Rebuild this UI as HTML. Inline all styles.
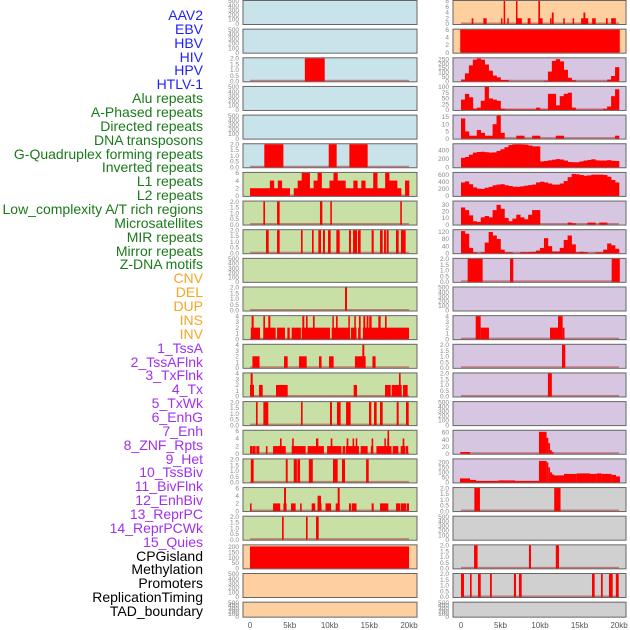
<!DOCTYPE html>
<html><head><meta charset="utf-8">
<style>
html,body{margin:0;padding:0;background:#fff;}
body{width:630px;height:630px;overflow:hidden;position:relative;font-family:"Liberation Sans",sans-serif;}
#labels div{position:absolute;right:427px;font-size:14px;line-height:14px;white-space:nowrap;}
svg{position:absolute;left:0;top:0;}
</style></head>
<body>
<div id="labels"></div>
<svg id="chart" width="630" height="630"></svg>
<script>
// ---- data ----
const trackNames = ["AAV2","EBV","HBV","HIV","HPV","HTLV-1","Alu repeats","A-Phased repeats","Directed repeats","DNA transposons","G-Quadruplex forming repeats","Inverted repeats","L1 repeats","L2 repeats","Low_complexity A/T rich regions","Microsatellites","MIR repeats","Mirror repeats","Z-DNA motifs","CNV","DEL","DUP","INS","INV","1_TssA","2_TssAFlnk","3_TxFlnk","4_Tx","5_TxWk","6_EnhG","7_Enh","8_ZNF_Rpts","9_Het","10_TssBiv","11_BivFlnk","12_EnhBiv","13_ReprPC","14_ReprPCWk","15_Quies","CPGisland","Methylation","Promoters","ReplicationTiming","TAD_boundary"];
const trackGroups = ["v","v","v","v","v","v","r","r","r","r","r","r","r","r","r","r","r","r","r","s","s","s","s","s","c","c","c","c","c","c","c","c","c","c","c","c","c","c","c","o","o","o","o","o"];
const xTickLabels = ["0","5kb","10kb","15kb","20kb"];
const xTickValues = [0,5,10,15,20];

// left column panels
const leftBg = ["b","b","b","b","b","b","g","g","g","g","g","g","g","g","g","g","g","g","g","o","o","o"];
const leftMax = [500,500,2,500,500,2,6,2,2,500,2,4,4,4,2,6,2,6,2,215,500,500];
const leftSeries = [
 null,null,
 {segs:[[6.9,9.4,2]]},
 null,null,
 {segs:[[1.8,4.2,2],[9.9,10.9,2],[12.5,14.8,2]]},
 {bins:[2,2,2,2,2,4,2,4,2,2,0,2,4,6,6,2,4,6,2,2,4,6,4,4,2,2,4,2,4,2,2,6,2,2,6,4,4,2,0,4]},
 {segs:[[1.68,1.89,2],[3.4,3.73,2],[8.8,9.1,2],[10.1,10.3,2],[18.9,19.1,2]]},
 {segs:[[2.01,2.35,2],[3.4,3.73,2],[6.41,6.62,2],[7.8,8.01,2],[8.6,8.93,2],[9.18,9.43,2],[9.81,10.15,2],[10.86,11.28,2],[12.45,12.7,2],[12.96,13.46,2],[13.58,13.92,2],[15.3,15.56,2],[16.35,16.69,2],[16.86,17.1,2],[17.19,17.44,2],[18.36,18.7,2],[18.99,19.58,2]]},
 null,
 {segs:[[11.95,12.2,2]]},
 {segs:[[0.1,1.26,2],[1.68,3.23,2],[3.4,4.4,2],[4.7,5.0,2],[5.24,6.4,2],[6.5,7.76,2],[7.67,10.06,2],[10.27,12.58,2],[12.7,13.4,2],[13.6,13.9,2],[14.2,20,2],[0.2,0.46,4],[1.68,1.89,4],[2.3,2.56,4],[6.58,6.83,4],[7.04,7.25,4],[7.92,8.13,4],[10.36,10.52,4],[10.82,11.03,4],[12.37,12.54,4],[13.12,13.25,4],[13.71,13.92,4],[14.26,14.5,4],[14.67,14.9,4],[15.0,15.3,4],[16.14,16.44,4],[16.98,17.19,4]]},
 {segs:[[0.3,1.2,2],[4.28,4.74,2],[6.16,7.13,2],[8.68,9.0,2],[9.94,10.52,2],[13.2,14.55,2],[15.4,15.8,2],[14.13,14.38,4]]},
 {segs:[[0,0.5,2],[1.13,1.6,2],[3.27,4.74,2],[13.04,13.46,2],[16.98,17.7,2],[17.82,19.08,2],[19.25,19.83,2],[0.08,0.34,4],[18.74,18.95,4]]},
 {segs:[[0.75,0.96,2],[1.68,2.3,2],[6.41,6.62,2],[10.06,10.31,2],[10.94,11.4,2],[12.08,12.66,2],[14.97,15.26,2],[15.6,15.93,2],[16.35,16.69,2],[18.45,18.7,2],[19.62,19.96,2]]},
 {segs:[[0,0.3,2],[0.33,0.71,2],[0.8,1.17,2],[2.0,2.2,2],[2.9,4.5,2],[5.24,7.0,2],[7.25,9.3,2],[9.7,11.5,2],[11.65,11.95,2],[12.03,13.7,2],[13.92,14.8,2],[15.2,15.5,2],[15.9,17.8,2],[17.95,18.66,2],[18.95,19.54,2],[19.6,19.9,2],[3.77,3.98,4],[5.3,5.5,4],[8.3,8.6,4],[10.15,10.36,4],[12.16,12.37,4],[12.9,13.1,4],[13.3,13.5,4],[15.3,15.5,4],[16.9,17.06,4],[17.27,17.5,4],[19.2,19.41,4],[17.3,17.5,6]]},
 {segs:[[0.1,0.46,2],[4.5,4.74,2],[5.5,5.9,2],[5.96,6.3,2],[7.4,7.9,2],[10.44,11.03,2],[11.57,11.95,2],[14.6,14.93,2]]},
 {segs:[[0,0.2,2],[2.9,3.8,2],[4.2,4.6,2],[5.16,5.74,2],[6.3,6.5,2],[7.76,8.2,2],[8.5,9.0,2],[9.5,10.2,2],[10.78,11.28,2],[12.45,12.7,2],[12.8,13.4,2],[15.3,15.56,2],[16.35,17.4,2],[18.36,18.87,2],[18.95,19.62,2],[19.7,20,2],[8.5,8.93,4],[4.28,4.53,6],[11.03,11.28,6]]},
 {segs:[[4.03,4.24,2],[7.04,7.25,2],[8.3,8.64,2]]},
 {segs:[[0,20,205]]},
 null,null
];

// right column panels
const rightBg = ["o","o","p","p","p","p","p","p","p","p","p","p","p","p","p","p","p","x","x","x","x","x"];
const rightMax = [8,6,260,100,16,550,650,35,130,2,500,4,2,2,500,65,230,2,500,2,2,500];
const rightSeries = [
 {segs:[[1.35,1.56,2],[2.83,3.25,2],[5.06,5.2,2],[5.4,5.57,8],[5.86,6.03,2],[6.96,7.13,8],[7.13,7.7,2],[8.44,8.8,2],[9.79,10.0,8],[9.79,10.33,2],[11.27,11.43,2],[11.5,11.73,4],[12.95,13.12,2],[14.13,14.3,2],[15.2,16.1,2],[15.5,15.74,4],[16.6,17.05,2],[18.35,18.57,2],[19.0,19.6,2],[19.2,19.4,2]]},
 {segs:[[-0.1,20.1,6]]},
 {bins:[20,90,180,245,258,245,190,120,65,45,15,15,0,0,0,0,0,0,0,0,0,5,110,230,250,225,130,40,12,0,0,0,0,0,0,0,0,20,60,160]},
 {bins:[45,70,55,5,10,40,100,50,45,40,5,2,2,2,2,2,2,2,2,10,2,2,70,70,20,60,70,75,10,1,1,1,1,1,1,1,5,15,60,90]},
 {bins:[14,5,2,2,6,4,2,2,10,16,4,0,0,0,2,2,0,0,2,2,0,0,0,0,2,2,0,0,0,0,0,0,0,0,0,0,0,0,0,2]},
 {bins:[225,245,300,350,365,370,360,350,355,390,430,480,530,545,548,545,540,520,500,500,140,150,165,180,195,185,160,125,120,120,140,160,175,190,165,160,160,170,155,150]},
 {bins:[380,410,330,240,205,195,230,255,300,320,330,300,280,260,255,270,290,305,320,380,400,380,350,320,320,350,420,530,620,610,590,570,580,600,600,600,590,540,450,380]},
 {bins:[26,22,14,5,4,11,13,11,22,30,24,10,5,9,15,11,8,15,22,22,0,0,0,0,0,0,0,3,2,0,0,0,3,3,0,3,3,0,0,0]},
 {bins:[125,110,30,5,0,5,60,120,100,80,20,5,5,0,0,6,5,7,8,15,30,85,40,10,10,30,75,100,50,5,8,6,0,0,5,5,20,55,45,25]},
 {segs:[[0.84,2.74,2],[6.2,6.62,2],[19.07,20.1,2]]},
 null,
 {segs:[[1.86,2.49,4],[2.49,3.54,2],[11.27,12.28,2],[12.28,12.87,4],[12.87,13.1,2]]},
 {segs:[[12.78,13.2,2]]},
 {segs:[[11.0,11.5,2]]},
 null,
 {segs:[[-0.1,1.14,5],[9.87,10.83,62],[10.83,11.05,45],[11.05,11.27,30],[11.27,11.5,10],[11.5,11.7,5]]},
 {segs:[[-0.13,1.14,40],[1.14,1.9,25],[1.9,4.73,15],[4.73,6.84,20],[6.84,9.87,15],[9.87,10.84,215],[10.84,11.05,200],[11.05,11.27,150],[11.27,11.52,100],[11.52,11.77,80],[11.77,13.04,70],[13.04,14.64,85],[14.64,16.33,90],[16.33,17.17,85],[17.17,17.8,90],[17.8,19.07,85],[19.07,19.62,75],[19.62,20.13,60]]},
 {segs:[[1.69,2.4,2],[11.8,12.6,2]]},
 null,
 {segs:[[1.65,2.1,2],[8.6,8.86,2],[12.0,12.4,2]]},
 {segs:[[0,0.38,2],[1.14,1.35,2],[2.15,2.5,2],[3.67,3.9,2],[6.7,6.96,2],[7.34,7.68,2],[16.58,16.92,2],[17.72,17.94,2],[18.73,19.2,2],[19.6,19.96,2]]},
 null
];

// ---- drawing ----
const NS = "http://www.w3.org/2000/svg";
const svg = document.getElementById("chart");
const bgColors = {b:"#c9e3eb",g:"#c8e0a6",o:"#fed09f",p:"#d6c6e2",x:"#d0d0d0"};
const groupColors = {v:"#1f1fff",r:"#1a7a1a",s:"#f5a623",c:"#a030f0",o:"#000000"};

function mk(tag, attrs, parent){
  const e = document.createElementNS(NS, tag);
  for (const k in attrs) e.setAttribute(k, attrs[k]);
  (parent||svg).appendChild(e);
  return e;
}
function tickSet(max){
  if (max===2) return [0,0.5,1,1.5,2];
  if (max===500) return [0,100,200,300,400,500];
  if (max===4) return [0,1,2,3,4];
  if (max===6) return [0,2,4,6];
  if (max===8) return [0,2,4,6,8];
  if (max===215) return [0,50,100,150,200];
  if (max===260) return [0,50,100,150,200,250];
  if (max===100) return [0,25,50,75,100];
  if (max===16) return [0,5,10,15];
  if (max===550) return [0,200,400];
  if (max===650) return [0,200,400,600];
  if (max===35) return [0,10,20,30];
  if (max===130) return [0,40,80,120];
  if (max===65) return [0,20,40,60];
  if (max===230) return [0,50,100,150,200];
  return [0,max];
}
function fmt(v,max){ return max===2 ? v.toFixed(1) : String(v); }

const rowH = 28.65;
function drawColumn(colName, x0, x1, dx0, dx1, bgs, maxes, series){
  const xs = kb => dx0 + (dx1-dx0)*kb/20;
  for (let i=0;i<bgs.length;i++){
    const top = i*rowH + 0.5;
    const h = i===21 ? 15 : 24;
    const bot = top + h;
    const g = mk("g", {});
    
    
    mk("rect",{x:x0,y:top,width:x1-x0,height:h,fill:bgColors[bgs[i]],stroke:"#666","stroke-width":1},g);
    const max = maxes[i];
    const ys = v => bot - 0.5 - (h-1)*Math.min(v,max)/max;
    // ticks
    const ticks = tickSet(max);
    for (const t of ticks){
      const tt = mk("text",{x:x0-4,y:ys(t)+2.2,"font-size":6.5,fill:"#888","text-anchor":"end","font-family":"Liberation Sans, sans-serif"},g);
      tt.textContent = fmt(t,max);
    }
    const s = series[i];
    if (!s) continue;
    mk("rect",{x:xs(0),y:bot-2,width:xs(20)-xs(0),height:1.5,fill:"#b04040",opacity:0.6},g);
    if (s.bins){
      s.bins.forEach((v,k)=>{
        if (v<=0) return;
        const r = mk("rect",{x:xs(k*0.5),y:ys(v),width:xs((k+1)*0.5)-xs(k*0.5)+0.3,height:bot-0.5-ys(v),fill:"#ff0000"},g);
        
        
      });
    }
    if (s.segs){
      s.segs.forEach(sg=>{
        const a = Math.max(xs(sg[0]), x0+1), b = Math.min(xs(sg[1]), x1-1);
        const r = mk("rect",{x:a,y:ys(sg[2]),width:Math.max(b-a,1.5),height:bot-0.5-ys(sg[2]),fill:"#ff0000"},g);
        
        
      });
    }
  }
  // x axis
  xTickValues.forEach((v,k)=>{
    const t = mk("text",{x:xs(v),y:628,"font-size":8,fill:"#555","text-anchor":"middle","font-family":"Liberation Sans, sans-serif"});
    
    
    t.textContent = xTickLabels[k];
  });
}
drawColumn("left", 243, 417, 250, 409, leftBg, leftMax, leftSeries);
drawColumn("right", 453, 626, 461, 619, rightBg, rightMax, rightSeries);

// labels
const lab = document.getElementById("labels");
trackNames.forEach((n,i)=>{
  const d = document.createElement("div");
  
  
  d.style.top = (8 + i*13.86) + "px";
  d.style.color = groupColors[trackGroups[i]];
  d.textContent = n;
  lab.appendChild(d);
});
</script>
</body></html>
